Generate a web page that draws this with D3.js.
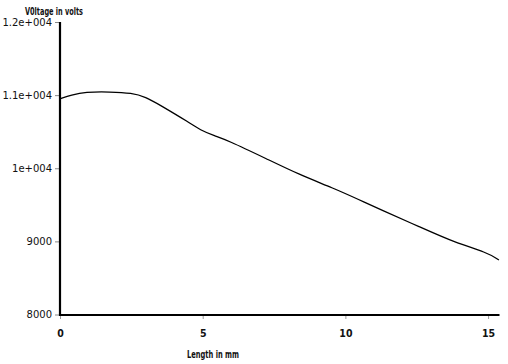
<!DOCTYPE html>
<html><head><meta charset="utf-8">
<script src="https://cdn.jsdelivr.net/npm/d3@7"></script>
<style>body{margin:0;background:#fff;}svg{display:block;}</style>
</head><body>
<svg id="c" width="508" height="364"></svg>
<script>
const lengthMm = [0, 0.4, 0.88, 1.75, 2.52, 3.0, 3.5, 4.55, 4.9, 5.43, 5.85, 7.25, 8.41, 9.56, 10.5, 11.2, 12.61, 13.84, 14.96, 15.38];
const voltage  = [10950, 11000, 11044, 11045, 11030, 10975, 10866, 10620, 10525, 10440, 10387, 10127, 9908, 9731, 9566, 9440, 9197, 8982, 8850, 8746];
const xTicks = [0, 5, 10, 15];
const yTicks = [8000, 9000, 10000, 11000, 12000];
const yTickLabels = ["8000", "9000", "1e+004", "1.1e+004", "1.2e+004"];
const xTitle = "Length in mm";
const yTitle = "V0ltage in volts";

const svg = d3.select("#c");
const x = d3.scaleLinear().domain([0, 15.4]).range([60, 499.5]);
const y = d3.scaleLinear().domain([8000, 12000]).range([314.5, 22]);
const condensed = "'DejaVu Sans Condensed', 'Liberation Sans', sans-serif";

// y ticks
const yAxis = d3.axisLeft(y).tickValues(yTicks).tickFormat((d,i)=>yTickLabels[i]).tickSize(4).tickPadding(3);
const gy = svg.append("g").attr("transform","translate(59,0)").call(yAxis);
gy.select(".domain").remove();
gy.selectAll(".tick line").attr("stroke","#888");
gy.selectAll(".tick text").attr("font-family","DejaVu Sans").attr("font-size","10px").attr("fill","#111");

// x ticks
const xAxis = d3.axisBottom(x).tickValues(xTicks).tickFormat(d3.format("d")).tickSize(4).tickPadding(11);
const gx = svg.append("g").attr("transform","translate(0,315)").call(xAxis);
gx.select(".domain").remove();
gx.selectAll(".tick line").attr("stroke","#999");
gx.selectAll(".tick text").attr("font-family",condensed).attr("font-weight","bold").attr("font-size","10.5px").attr("fill","#111");

// axis lines
svg.append("line").attr("x1",60).attr("x2",60).attr("y1",y(12000)).attr("y2",316).attr("stroke","#000").attr("stroke-width",2.2);
svg.append("line").attr("x1",59).attr("x2",499.5).attr("y1",315).attr("y2",315).attr("stroke","#000").attr("stroke-width",2.2);

// curve
const line = d3.line().x((d,i)=>x(lengthMm[i])).y(d=>y(d)).curve(d3.curveBasis);
svg.append("path").datum(voltage).attr("d",line).attr("fill","none").attr("stroke","#000").attr("stroke-width",1.3);

// titles
svg.append("text").attr("x",25).attr("y",15).text(yTitle)
  .attr("textLength",58).attr("lengthAdjust","spacingAndGlyphs")
  .attr("font-family",condensed).attr("font-weight","bold").attr("font-size","10px").attr("fill","#111");
svg.append("text").attr("x",187).attr("y",358).text(xTitle)
  .attr("textLength",52).attr("lengthAdjust","spacingAndGlyphs")
  .attr("font-family",condensed).attr("font-weight","bold").attr("font-size","10px").attr("fill","#111");
</script>
</body></html>
